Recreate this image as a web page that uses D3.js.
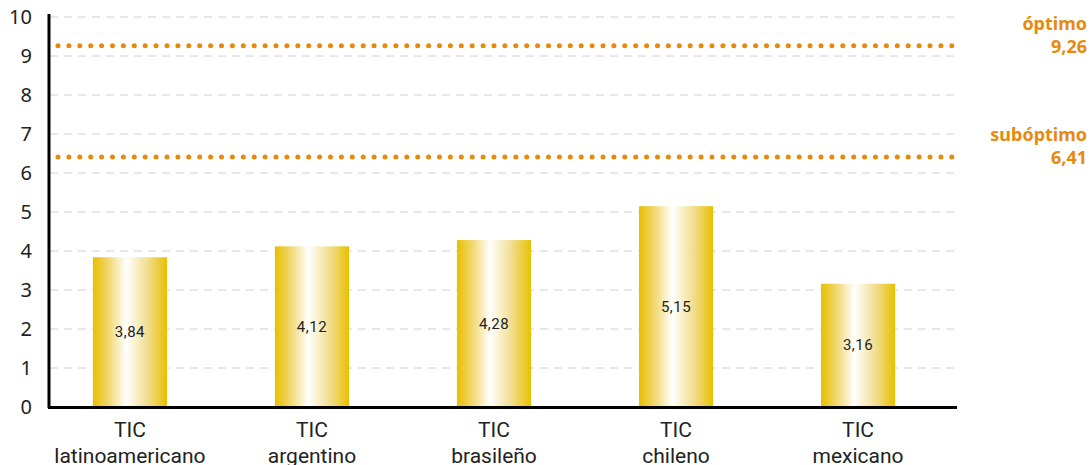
<!DOCTYPE html>
<html>
<head>
<meta charset="utf-8">
<script src="https://cdn.jsdelivr.net/npm/d3@7"></script>
<style>
  body { margin: 0; background: #fff; }
  svg { display: block; }
</style>
</head>
<body>
<div id="plot"></div>
<script>
var categories = ["latinoamericano", "argentino", "brasileño", "chileno", "mexicano"];
var values = [3.84, 4.12, 4.28, 5.15, 3.16];
var refNames = ["óptimo", "subóptimo"];
var refValues = [9.26, 6.41];
var yTicks = [0, 1, 2, 3, 4, 5, 6, 7, 8, 9, 10];

var width = 1092, height = 465;
var fmt = function(v) { return d3.format(".2f")(v).replace(".", ","); };

var svg = d3.select("#plot")
  .append("svg")
    .attr("width", width)
    .attr("height", height);

var defs = svg.append("defs");
var grad = defs.append("linearGradient")
    .attr("id", "barGrad")
    .attr("x1", "0%").attr("x2", "100%")
    .attr("y1", "0%").attr("y2", "0%");
grad.append("stop").attr("offset", "0%").attr("stop-color", "#e8bf00");
grad.append("stop").attr("offset", "20%").attr("stop-color", "#f0d66a");
grad.append("stop").attr("offset", "45%").attr("stop-color", "#ffffff");
grad.append("stop").attr("offset", "75%").attr("stop-color", "#f1dc8a");
grad.append("stop").attr("offset", "100%").attr("stop-color", "#e8c000");

var x = d3.scaleBand()
    .domain(categories)
    .range([39, 949])
    .paddingInner(0.593)
    .paddingOuter(0.296);

var y = d3.scaleLinear()
    .domain([0, 10])
    .range([407, 17]);

// grid lines
svg.append("g")
  .selectAll("line")
  .data(yTicks.slice(1))
  .enter()
  .append("line")
    .attr("x1", 50)
    .attr("x2", 957)
    .attr("y1", function(d) { return y(d); })
    .attr("y2", function(d) { return y(d); })
    .style("stroke", "#d0d0d0")
    .style("stroke-width", 1)
    .style("stroke-dasharray", "8,6");

// bars
svg.append("g")
  .selectAll("rect")
  .data(values)
  .enter()
  .append("rect")
    .attr("x", function(d, i) { return x(categories[i]); })
    .attr("y", function(d) { return y(d); })
    .attr("width", x.bandwidth())
    .attr("height", function(d) { return y(0) - y(d); })
    .style("fill", "url(#barGrad)");

// value labels
svg.append("g")
  .selectAll("text")
  .data(values)
  .enter()
  .append("text")
    .attr("x", function(d, i) { return x(categories[i]) + x.bandwidth() / 2; })
    .attr("y", function(d) { return (y(d) + y(0)) / 2 + 5; })
    .attr("text-anchor", "middle")
    .style("font-family", "Roboto, sans-serif")
    .style("font-size", "15px")
    .style("letter-spacing", "0.5px")
    .style("fill", "#222")
    .text(function(d) { return fmt(d); });

// reference lines
svg.append("g")
  .selectAll("line")
  .data(refValues)
  .enter()
  .append("line")
    .attr("x1", 58)
    .attr("x2", 957)
    .attr("y1", function(d) { return y(d); })
    .attr("y2", function(d) { return y(d); })
    .style("stroke", "#e8890c")
    .style("stroke-width", 5)
    .style("stroke-linecap", "round")
    .style("stroke-dasharray", "0,10.9");

var refLabels = svg.append("g")
  .selectAll("text")
  .data(refValues)
  .enter()
  .append("text")
    .attr("text-anchor", "end")
    .style("font-family", "'Noto Sans', sans-serif")
    .style("font-size", "18px")
    .style("font-weight", "bold")
    .style("fill", "#e8890c");
refLabels.append("tspan")
    .attr("x", 1087)
    .attr("y", function(d) { return y(d) - 16; })
    .text(function(d, i) { return refNames[i]; });
refLabels.append("tspan")
    .attr("x", 1087)
    .attr("y", function(d) { return y(d) + 7; })
    .text(function(d) { return fmt(d); });

// y axis
var yAxis = svg.append("g")
    .attr("transform", "translate(49,0)")
    .call(d3.axisLeft(y).tickValues(yTicks).tickSize(0).tickPadding(17));
yAxis.select(".domain").attr("d", "M0,14V408").style("stroke", "#000").style("stroke-width", 3);
yAxis.selectAll("text")
    .style("font-family", "'Noto Sans', sans-serif")
    .style("font-size", "20px")
    .style("fill", "#222");

// x axis line
svg.append("line")
    .attr("x1", 48)
    .attr("x2", 957)
    .attr("y1", y(0) + 0.5)
    .attr("y2", y(0) + 0.5)
    .style("stroke", "#000")
    .style("stroke-width", 3);

// category labels
var catLabels = svg.append("g")
  .selectAll("text")
  .data(categories)
  .enter()
  .append("text")
    .attr("text-anchor", "middle")
    .style("font-family", "Roboto, sans-serif")
    .style("font-size", "21px")
    .style("fill", "#222");
catLabels.append("tspan")
    .attr("x", function(d) { return x(d) + x.bandwidth() / 2; })
    .attr("y", 437)
    .text("TIC");
catLabels.append("tspan")
    .attr("x", function(d) { return x(d) + x.bandwidth() / 2; })
    .attr("y", 463)
    .text(function(d) { return d; });
</script>
</body>
</html>
